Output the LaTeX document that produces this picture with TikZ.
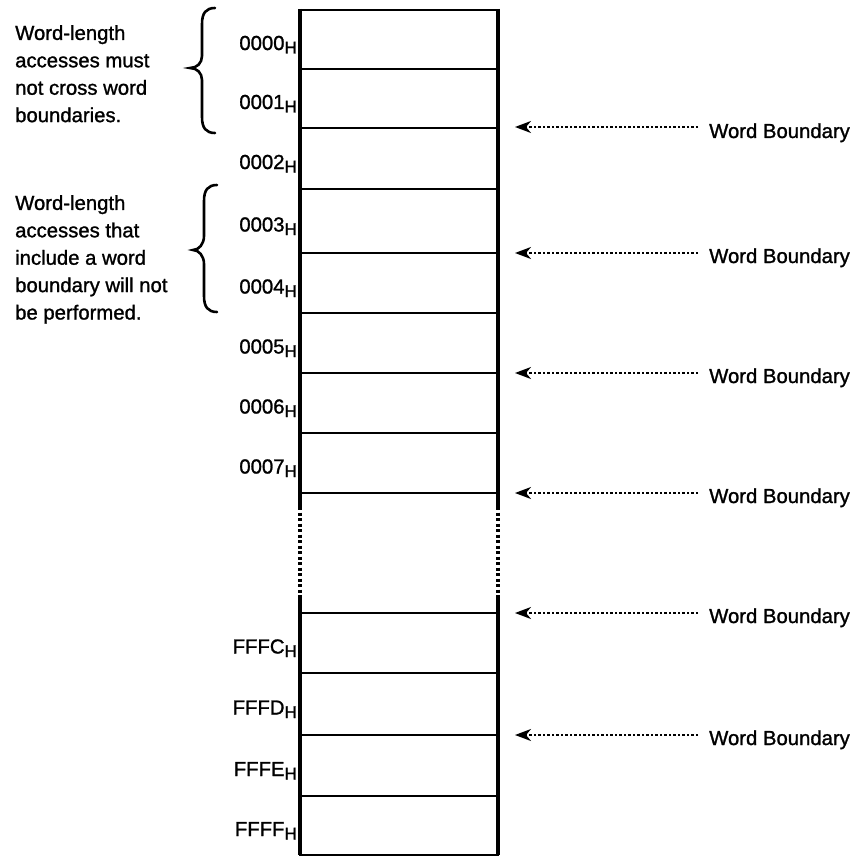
\documentclass[tikz,border=0pt]{standalone}
\usepackage{fontspec}
\setmainfont{Liberation Sans}[UprightFeatures={FakeBold=1.2}]
\usetikzlibrary{arrows.meta}
\newcommand\addrH{\raisebox{-3.5pt}{\fontsize{17}{17}\selectfont H}}
\begin{document}
\begin{tikzpicture}[x=1pt,y=-1pt,
  cell/.style={draw, line width=2.6pt, minimum width=198pt, inner sep=0pt, outer sep=0pt},
  side/.style={line width=3.6pt},
  addr/.style={inner sep=0pt, anchor=base east, font=\fontsize{20.3}{20}\selectfont},
  wb/.style={inner sep=0pt, anchor=base west, font=\fontsize{20.3}{24}\selectfont},
  note/.style={inner sep=0pt, anchor=north west, align=left, font=\fontsize{20.3}{27.4}\selectfont},
  wbarrow/.style={line width=2pt, dash pattern=on 2.2pt off 2.3pt, -{Stealth[length=16pt,width=12pt,inset=5pt]}, shorten <=11pt},
  brc/.style={line width=2.6pt, line cap=round}
]
\useasboundingbox (0,0) rectangle (864,856);

% memory cells
\node[cell, minimum height=59pt] (r0) at (399,39.5) {};
\node[cell, minimum height=59pt] (r1) at (399,98.5) {};
\node[cell, minimum height=61pt] (r2) at (399,158.5) {};
\node[cell, minimum height=64pt] (r3) at (399,221) {};
\node[cell, minimum height=60pt] (r4) at (399,283) {};
\node[cell, minimum height=60pt] (r5) at (399,343) {};
\node[cell, minimum height=60pt] (r6) at (399,403) {};
\node[cell, minimum height=60pt] (r7) at (399,463) {};
\node[cell, minimum height=60pt] (rC) at (399,643) {};
\node[cell, minimum height=62pt] (rD) at (399,704) {};
\node[cell, minimum height=61pt] (rE) at (399,765.5) {};
\node[cell, minimum height=59pt] (rF) at (399,825.5) {};

% thick sides
\draw[side] (300,9) -- (300,507);
\draw[side] (498,9) -- (498,507);
\draw[side, dash pattern=on 3pt off 2.5pt] (300,507) -- (300,597);
\draw[side, dash pattern=on 3pt off 2.5pt] (498,507) -- (498,597);
\draw[side] (300,597) -- (300,855);
\draw[side] (498,597) -- (498,855);

% address labels
\node[addr] (a0) at (297,50) {0000\addrH};
\node[addr] (a1) at (297,109) {0001\addrH};
\node[addr] (a2) at (297,169) {0002\addrH};
\node[addr] (a3) at (297,231.5) {0003\addrH};
\node[addr] (a4) at (297,293.5) {0004\addrH};
\node[addr] (a5) at (297,353.5) {0005\addrH};
\node[addr] (a6) at (297,413.5) {0006\addrH};
\node[addr] (a7) at (297,473.5) {0007\addrH};
\node[addr] (aC) at (297,653.5) {FFFC\addrH};
\node[addr] (aD) at (297,714.5) {FFFD\addrH};
\node[addr] (aE) at (297,776) {FFFE\addrH};
\node[addr] (aF) at (297,836) {FFFF\addrH};

% word boundaries
\coordinate (b1) at (515,127);
\coordinate (b2) at (515,253);
\coordinate (b3) at (515,373);
\coordinate (b4) at (515,493);
\coordinate (b5) at (515,613);
\coordinate (b6) at (515,735);
\node[wb] (w1) at (709,138) {Word Boundary};
\node[wb] (w2) at (709,263) {Word Boundary};
\node[wb] (w3) at (709,383) {Word Boundary};
\node[wb] (w4) at (709,503) {Word Boundary};
\node[wb] (w5) at (709,623) {Word Boundary};
\node[wb] (w6) at (709,745) {Word Boundary};
\draw[wbarrow] (w1.west |- b1) -- (b1);
\draw[wbarrow] (w2.west |- b2) -- (b2);
\draw[wbarrow] (w3.west |- b3) -- (b3);
\draw[wbarrow] (w4.west |- b4) -- (b4);
\draw[wbarrow] (w5.west |- b5) -- (b5);
\draw[wbarrow] (w6.west |- b6) -- (b6);

% notes and braces
\node[note] (n1) at (15,25) {Word-length\\accesses must\\not cross word\\boundaries.};
\node[note] (n2) at (15,195) {Word-length\\accesses that\\include a word\\boundary will not\\be performed.};
\draw[brc] (215,8) .. controls (206,8) and (202,13) .. (202,24)
  -- (202,56) .. controls (202,63) and (197,68) .. (190,68)
  .. controls (197,68) and (202,73) .. (202,80)
  -- (202,117) .. controls (202,128) and (206,133) .. (215,133);
\draw[brc] (217,185) .. controls (208,185) and (204,190) .. (204,201)
  -- (204,236) .. controls (204,244) and (199,250) .. (193,250)
  .. controls (199,250) and (204,256) .. (204,264)
  -- (204,296) .. controls (204,307) and (208,312) .. (217,312);
\end{tikzpicture}
\end{document}
